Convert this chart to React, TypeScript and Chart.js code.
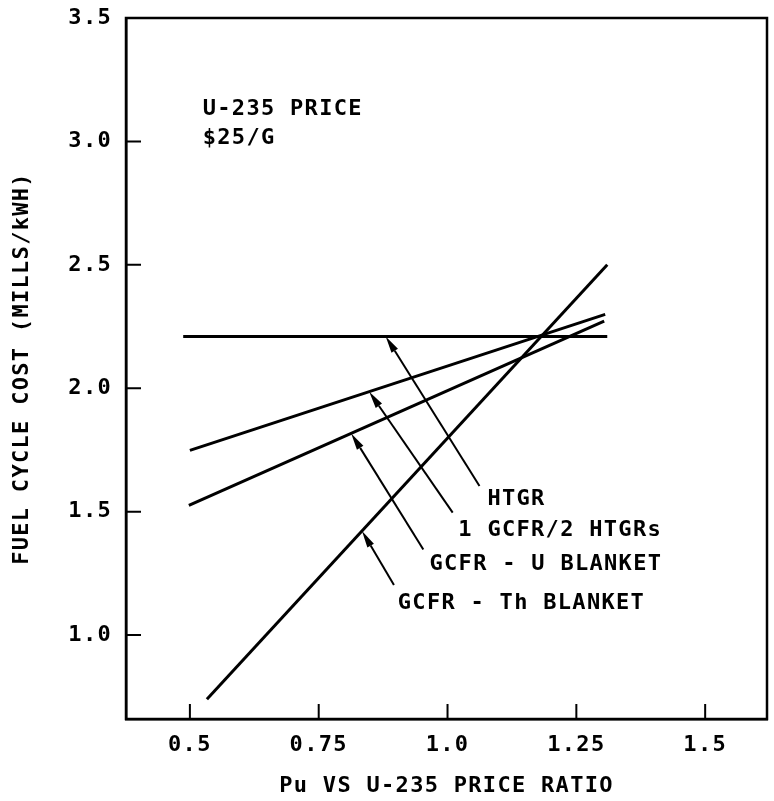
import React, { useEffect, useRef } from "react";
import { Chart, registerables } from "chart.js";

Chart.register(...registerables);

const FONT_FAMILY = "'DejaVu Sans Mono', monospace";
const FONT_SIZE = 22;
const FONT_WEIGHT = "bold";
const LETTER_SPACING = "1.3px";
const TICK_LEN = 15;

// Fuel cycle cost (mills/kWh) against the Pu / U-235 price ratio, end points of each line
const HTGR_X = [0.487, 1.31];
const HTGR_Y = [2.21, 2.21];
const MIXED_X = [0.5, 1.306];
const MIXED_Y = [1.748, 2.299];
const U_BLANKET_X = [0.498, 1.304];
const U_BLANKET_Y = [1.525, 2.272];
const TH_BLANKET_X = [0.533, 1.31];
const TH_BLANKET_Y = [0.74, 2.5];

const X_TICKS = [0.5, 0.75, 1.0, 1.25, 1.5];
const X_TICK_LABELS = ["0.5", "0.75", "1.0", "1.25", "1.5"];
const Y_TICKS = [1.0, 1.5, 2.0, 2.5, 3.0, 3.5];
const Y_TICK_LABELS = ["1.0", "1.5", "2.0", "2.5", "3.0", "3.5"];

const X_MIN = 0.376;
const X_MAX = 1.62;
const Y_MIN = 0.66;
const Y_MAX = 3.5;

const CURVE_NAMES = ["HTGR", "1 GCFR/2 HTGRs", "GCFR - U BLANKET", "GCFR - Th BLANKET"];
// name placement (left edge, middle) and the arrow from the name to its line
const NAME_X = [1.0775, 1.021, 0.965, 0.9035];
const NAME_Y = [1.55, 1.426, 1.285, 1.128];
const ARROW_FROM_X = [1.062, 1.01, 0.953, 0.896];
const ARROW_FROM_Y = [1.604, 1.496, 1.347, 1.2025];
const ARROW_TO_X = [0.88, 0.848, 0.813, 0.834];

const NOTE_LINES = ["U-235 PRICE", "$25/G"];
const NOTE_X = 0.525;
const NOTE_Y = [3.13, 3.012];

const CURVES = [
  { x: HTGR_X, y: HTGR_Y },
  { x: MIXED_X, y: MIXED_Y },
  { x: U_BLANKET_X, y: U_BLANKET_Y },
  { x: TH_BLANKET_X, y: TH_BLANKET_Y },
];

function curveValueAt(i: number, x: number): number {
  const c = CURVES[i];
  for (let j = 0; j < c.x.length - 1; j++) {
    const x0 = c.x[j], x1 = c.x[j + 1];
    if (x >= x0 && x <= x1) {
      return c.y[j] + ((x - x0) / (x1 - x0)) * (c.y[j + 1] - c.y[j]);
    }
  }
  return c.y[0];
}

const spacingPlugin = {
  id: "letterSpacing",
  beforeUpdate(chart: any) {
    chart.ctx.letterSpacing = LETTER_SPACING;
  },
  beforeDraw(chart: any) {
    chart.ctx.letterSpacing = LETTER_SPACING;
  },
};

const framePlugin = {
  id: "frame",
  afterDraw(chart: any) {
    const { ctx, chartArea: a, scales } = chart;
    ctx.save();
    ctx.strokeStyle = "#000";
    ctx.lineWidth = 2.5;
    ctx.strokeRect(a.left, a.top, a.right - a.left, a.bottom - a.top);
    ctx.lineWidth = 2;
    ctx.beginPath();
    for (const t of scales.x.ticks) {
      const px = scales.x.getPixelForValue(t.value);
      ctx.moveTo(px, a.bottom);
      ctx.lineTo(px, a.bottom - TICK_LEN);
    }
    for (const t of scales.y.ticks) {
      const py = scales.y.getPixelForValue(t.value);
      if (py <= a.top + 1) continue;
      ctx.moveTo(a.left, py);
      ctx.lineTo(a.left + TICK_LEN, py);
    }
    ctx.stroke();
    ctx.restore();
  },
};

const annotationPlugin = {
  id: "curveNames",
  afterDatasetsDraw(chart: any) {
    const { ctx, scales } = chart;
    const xs = scales.x, ys = scales.y;
    ctx.save();
    ctx.letterSpacing = LETTER_SPACING;
    ctx.fillStyle = "#000";
    ctx.strokeStyle = "#000";
    ctx.font = `${FONT_WEIGHT} ${FONT_SIZE}px ${FONT_FAMILY}`;
    ctx.textAlign = "left";
    ctx.textBaseline = "middle";

    CURVE_NAMES.forEach((name, i) => {
      ctx.fillText(name, xs.getPixelForValue(NAME_X[i]), ys.getPixelForValue(NAME_Y[i]));

      const fx = xs.getPixelForValue(ARROW_FROM_X[i]);
      const fy = ys.getPixelForValue(ARROW_FROM_Y[i]);
      const tx = xs.getPixelForValue(ARROW_TO_X[i]);
      const ty = ys.getPixelForValue(curveValueAt(i, ARROW_TO_X[i]));
      const ang = Math.atan2(ty - fy, tx - fx);
      const headLen = 17;
      const headHalf = 3.8;
      const bx = tx - headLen * Math.cos(ang);
      const by = ty - headLen * Math.sin(ang);

      ctx.lineWidth = 2;
      ctx.beginPath();
      ctx.moveTo(fx, fy);
      ctx.lineTo(bx, by);
      ctx.stroke();

      ctx.beginPath();
      ctx.moveTo(tx, ty);
      ctx.lineTo(bx + headHalf * Math.sin(ang), by - headHalf * Math.cos(ang));
      ctx.lineTo(bx - headHalf * Math.sin(ang), by + headHalf * Math.cos(ang));
      ctx.closePath();
      ctx.fill();
    });

    NOTE_LINES.forEach((line, i) => {
      ctx.fillText(line, xs.getPixelForValue(NOTE_X), ys.getPixelForValue(NOTE_Y[i]));
    });
    ctx.restore();
  },
};

export default function App() {
  const canvasRef = useRef<HTMLCanvasElement>(null);

  useEffect(() => {
    const canvas = canvasRef.current;
    if (!canvas) return;
    const font = { family: FONT_FAMILY, size: FONT_SIZE, weight: FONT_WEIGHT, lineHeight: 1.2 };

    const chart = new Chart(canvas, {
      type: "line",
      data: {
        datasets: CURVES.map((c, i) => ({
          label: CURVE_NAMES[i],
          data: c.x.map((x, j) => ({ x, y: c.y[j] })),
          borderColor: "#000",
          backgroundColor: "#000",
          borderWidth: 3,
          pointRadius: 0,
          tension: 0,
          fill: false,
        })),
      },
      options: {
        animation: false,
        responsive: false,
        devicePixelRatio: 1,
        layout: { padding: { top: 18, right: 7, left: 0, bottom: 0 } },
        plugins: {
          legend: { display: false },
          tooltip: { enabled: false },
        },
        scales: {
          x: {
            type: "linear",
            min: X_MIN,
            max: X_MAX,
            afterBuildTicks: (s: any) => {
              s.ticks = X_TICKS.map((v) => ({ value: v }));
            },
            afterFit: (s: any) => {
              s.height = 82;
              s.paddingLeft = 0;
              s.paddingRight = 0;
            },
            grid: { display: false, drawTicks: false },
            border: { display: true, color: "#000", width: 2.5 },
            ticks: {
              autoSkip: false,
              maxRotation: 0,
              padding: 13,
              color: "#000",
              font,
              callback: (v: any) => {
                const k = X_TICKS.findIndex((t) => Math.abs(t - Number(v)) < 1e-6);
                return k >= 0 ? X_TICK_LABELS[k] : "";
              },
            },
            title: {
              display: true,
              text: "Pu VS U-235 PRICE RATIO",
              color: "#000",
              font,
              padding: { top: 0, bottom: 2 },
            },
          },
          y: {
            type: "linear",
            min: Y_MIN,
            max: Y_MAX,
            afterBuildTicks: (s: any) => {
              s.ticks = Y_TICKS.map((v) => ({ value: v }));
            },
            afterFit: (s: any) => {
              s.width = 126;
              s.paddingTop = 0;
              s.paddingBottom = 0;
            },
            grid: { display: false, drawTicks: false },
            border: { display: true, color: "#000", width: 2.5 },
            ticks: {
              autoSkip: false,
              padding: 14,
              color: "#000",
              font,
              callback: (v: any) => {
                const k = Y_TICKS.findIndex((t) => Math.abs(t - Number(v)) < 1e-6);
                return k >= 0 ? Y_TICK_LABELS[k] : "";
              },
            },
            title: {
              display: true,
              text: "FUEL CYCLE COST (MILLS/kWH)",
              color: "#000",
              font,
              padding: { top: 9, bottom: 0 },
            },
          },
        },
      },
      plugins: [spacingPlugin, framePlugin, annotationPlugin],
    } as any);

    return () => chart.destroy();
  }, []);

  return (
    <div style={{ position: "absolute", left: 0, top: 0, width: 774, height: 801, background: "#fff" }}>
      <canvas ref={canvasRef} width={774} height={801} style={{ display: "block", width: 774, height: 801 }} />
    </div>
  );
}
